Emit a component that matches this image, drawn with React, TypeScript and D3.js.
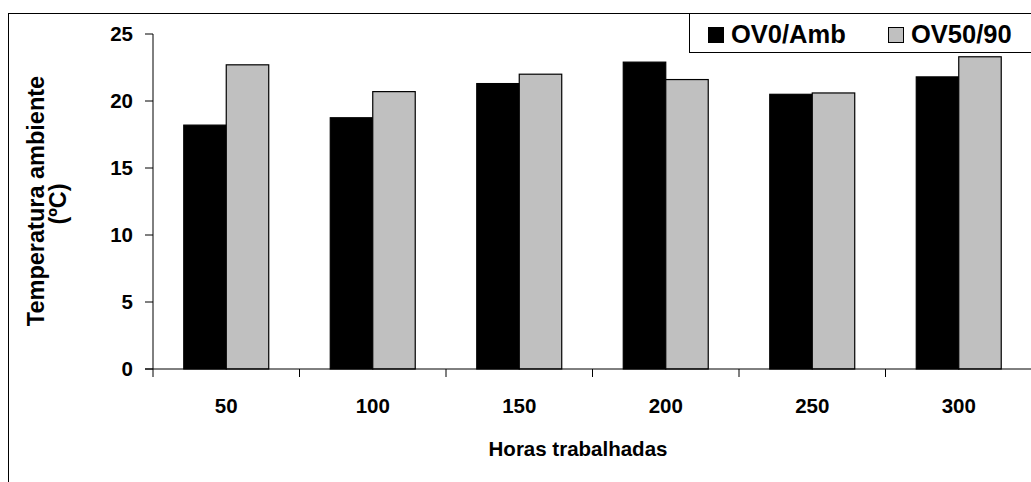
import React from "react";
import * as d3 from "d3";

const categories = ["50", "100", "150", "200", "250", "300"];
const seriesNames = ["OV0/Amb", "OV50/90"];
const ov0Amb = [18.2, 18.75, 21.3, 22.9, 20.5, 21.8];
const ov5090 = [22.7, 20.7, 22.0, 21.6, 20.6, 23.3];
const yTicks = [0, 5, 10, 15, 20, 25];
const colors = ["#000000", "#c0c0c0"];

export default function App() {
  const W = 1031, H = 482;
  const left = 153, right = 1032, top = 34, bottom = 369;
  const x = d3.scaleBand().domain(categories).range([left, right]).paddingInner(0).paddingOuter(0);
  const y = d3.scaleLinear().domain([0, 25]).range([bottom, top]);
  const bw = x.bandwidth();
  const barW = bw * 0.29;
  const groupOff = (bw - 2 * barW) / 2;
  const font = "'Liberation Sans', Arial, sans-serif";
  const series = [ov0Amb, ov5090];
  const fs = 20.5;
  return (
    <svg width={W} height={H} style={{ position: "absolute", left: 0, top: 0, background: "#fff" }}>
      <rect x={8.5} y={13.5} width={W + 10} height={H + 10} fill="#fff" stroke="#000" strokeWidth={1} />
      {categories.map((c, i) =>
        series.map((s, k) => (
          <rect key={c + k} x={(x(c) as number) + groupOff + k * barW} y={y(s[i])} width={barW}
            height={y(0) - y(s[i])} fill={colors[k]} stroke="#000" strokeWidth={1.2} />
        ))
      )}
      <line x1={left} x2={left} y1={top} y2={bottom + 8} stroke="#000" />
      {yTicks.map((t) => (
        <g key={t}>
          <line x1={left - 8} x2={left} y1={y(t)} y2={y(t)} stroke="#000" />
          <text x={133} y={y(t)} dy="0.36em" textAnchor="end" fontFamily={font} fontWeight="bold" fontSize={fs}>{t}</text>
        </g>
      ))}
      <line x1={left - 8} x2={right} y1={bottom} y2={bottom} stroke="#000" />
      {categories.map((c) => (
        <g key={c}>
          <line x1={(x(c) as number) + bw} x2={(x(c) as number) + bw} y1={bottom} y2={bottom + 8} stroke="#000" />
          <text x={(x(c) as number) + bw / 2} y={413} textAnchor="middle" fontFamily={font} fontWeight="bold" fontSize={fs}>{c}</text>
        </g>
      ))}
      <text x={578} y={456} textAnchor="middle" fontFamily={font} fontWeight="bold" fontSize={fs}>Horas trabalhadas</text>
      <text transform="translate(44,201) rotate(-90)" textAnchor="middle" fontFamily={font} fontWeight="bold" fontSize={23.5}>Temperatura ambiente</text>
      <text transform="translate(66,204) rotate(-90)" textAnchor="middle" fontFamily={font} fontWeight="bold" fontSize={23.5}>(ºC)</text>
      <rect x={689.5} y={13.5} width={W} height={39} fill="#fff" stroke="#000" />
      {seriesNames.map((n, k) => (
        <g key={n}>
          <rect x={708.5 + k * 180} y={27.5} width={15} height={15} fill={colors[k]} stroke="#000" />
          <text x={731 + k * 180} y={43} fontFamily={font} fontWeight="bold" fontSize={25.5}>{n}</text>
        </g>
      ))}
    </svg>
  );
}
